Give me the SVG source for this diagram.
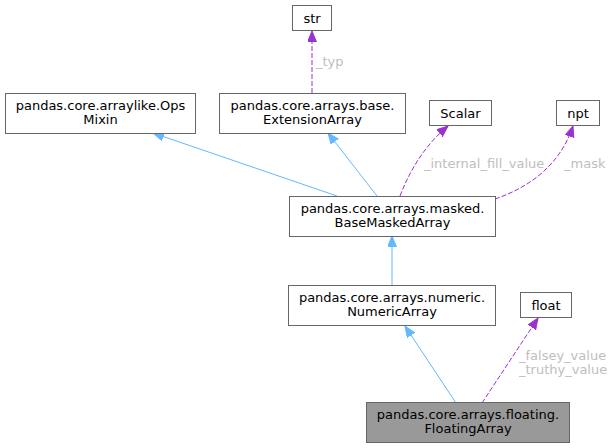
<svg xmlns="http://www.w3.org/2000/svg" width="615" height="448" viewBox="0 0 615 448">
<style>
.n rect{fill:#fff;stroke:#666;stroke-width:1}
.n text{font-family:"DejaVu Sans",sans-serif;font-size:13px;fill:#000;text-anchor:middle}
.e path{fill:none;stroke-width:1}
.b{stroke:#63b8ff}
.p{stroke:#9a32cd;stroke-dasharray:5,2}
.l{font-family:"DejaVu Sans",sans-serif;font-size:13px;fill:#bebebe}
</style>
<defs>
<marker id="ab" markerUnits="userSpaceOnUse" markerWidth="12" markerHeight="10" refX="11" refY="4.5" orient="auto"><path d="M0,0 L11,4.5 L0,9 z" fill="#63b8ff" stroke="#63b8ff"/></marker>
<marker id="ap" markerUnits="userSpaceOnUse" markerWidth="12" markerHeight="10" refX="11" refY="4.5" orient="auto"><path d="M0,0 L11,4.5 L0,9 z" fill="#9a32cd" stroke="#9a32cd"/></marker>
</defs>
<rect width="615" height="448" fill="#fff"/>
<g class="e" id="edges">
<path class="b" d="M337,196 L153,133" marker-end="url(#ab)"/>
<path class="b" d="M377,196 L328,133" marker-end="url(#ab)"/>
<path class="p" d="M312,93 L312,31" marker-end="url(#ap)"/>
<path class="p" d="M400,196 C410,170 425,145 448,126" marker-end="url(#ap)"/>
<path class="p" d="M495,199 C530,187 560,165 573,126" marker-end="url(#ap)"/>
<path class="b" d="M392,285 L392,236" marker-end="url(#ab)"/>
<path class="b" d="M456,403 L405,326" marker-end="url(#ab)"/>
<path class="p" d="M482,403 L538,318" marker-end="url(#ap)"/>
<text class="l" x="316" y="66">_typ</text>
<text class="l" x="424" y="168">_internal_fill_value</text>
<text class="l" x="564" y="168">_mask</text>
<text class="l" x="519" y="360">_falsey_value</text>
<text class="l" x="519" y="374">_truthy_value</text>
</g>
<g class="n" id="str"><rect x="292.5" y="5.5" width="39" height="25"/><text x="312" y="22.5">str</text></g>
<g class="n" id="opsmixin"><rect x="5.5" y="93.5" width="190" height="40"/><text x="100.5" y="109.5">pandas.core.arraylike.Ops</text><text x="100.5" y="123.5">Mixin</text></g>
<g class="n" id="extensionarray"><rect x="219.5" y="93.5" width="186" height="40"/><text x="312.5" y="109.5">pandas.core.arrays.base.</text><text x="312.5" y="123.5">ExtensionArray</text></g>
<g class="n" id="scalar"><rect x="429.5" y="100.5" width="62" height="25"/><text x="460.5" y="117.5">Scalar</text></g>
<g class="n" id="npt"><rect x="556.5" y="100.5" width="43" height="25"/><text x="578" y="117.5">npt</text></g>
<g class="n" id="basemaskedarray"><rect x="289.5" y="196.5" width="206" height="40"/><text x="392.5" y="212.5">pandas.core.arrays.masked.</text><text x="392.5" y="226.5">BaseMaskedArray</text></g>
<g class="n" id="numericarray"><rect x="288.5" y="285.5" width="207" height="40"/><text x="392" y="301.5">pandas.core.arrays.numeric.</text><text x="392" y="315.5">NumericArray</text></g>
<g class="n" id="float"><rect x="520.5" y="292.5" width="51" height="25"/><text x="546" y="309.5">float</text></g>
<g class="n" id="floatingarray"><rect x="366.5" y="402.5" width="203" height="40" style="fill:#999"/><text x="468" y="418.5">pandas.core.arrays.floating.</text><text x="468" y="432.5">FloatingArray</text></g>
</svg>
